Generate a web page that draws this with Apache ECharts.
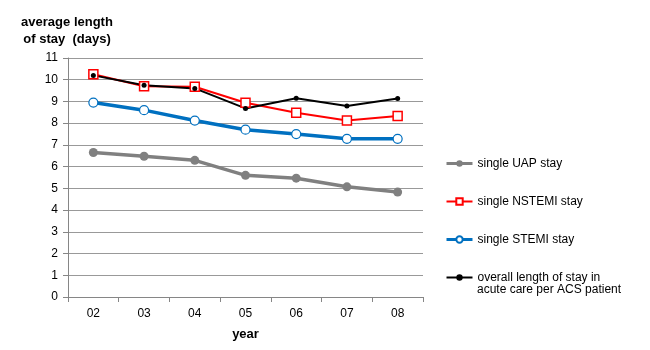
<!DOCTYPE html>
<html>
<head>
<meta charset="UTF-8">
<script src="https://cdn.jsdelivr.net/npm/echarts@6/dist/echarts.min.js"></script>
<style>
    * { margin: 0; padding: 0; }
    body { background: #fff; }
    #main { width: 650px; height: 350px; }
</style>
</head>
<body>
<div id="main"></div>
<script>
    // data
    var years = ['02', '03', '04', '05', '06', '07', '08'];
    var uapStay = [6.65, 6.48, 6.29, 5.6, 5.47, 5.07, 4.83];
    var nstemiStay = [10.25, 9.7, 9.68, 8.94, 8.48, 8.12, 8.33];
    var stemiStay = [8.95, 8.6, 8.12, 7.7, 7.5, 7.28, 7.28];
    var overallStay = [10.2, 9.75, 9.6, 8.68, 9.15, 8.79, 9.14];

    var overallName = 'overall length of stay in';
    var overallName2 = 'acute care per ACS patient';
    var font = 'Liberation Sans, Arial, sans-serif';
    var chart = echarts.init(document.getElementById('main'));

    var legendText = { fontFamily: font, fontSize: 12, color: '#000', lineHeight: 13 };

    var option = {
        animation: false,
        title: {
            text: 'average length\nof stay  (days)',
            left: 62,
            top: 9,
            textAlign: 'center',
            textStyle: { fontFamily: font, fontSize: 13, fontWeight: 'bold', color: '#000', lineHeight: 17 }
        },
        legend: {
            orient: 'vertical',
            left: 445,
            top: 157,
            padding: 0,
            itemWidth: 26,
            itemHeight: 8,
            itemGap: 25,
            textStyle: legendText,
            data: [
                { name: 'single UAP stay', lineStyle: { width: 3 } },
                { name: 'single NSTEMI stay' },
                { name: 'single STEMI stay', lineStyle: { width: 3 } },
                { name: overallName }
            ]
        },
        // second line of the last legend entry
        graphic: [{
            type: 'text',
            left: 477,
            top: 284,
            style: { text: overallName2, font: '12px ' + font, fill: '#000' }
        }],
        grid: { left: 68, right: 227, top: 58, bottom: 53 },
        xAxis: {
            type: 'category',
            data: years,
            name: 'year',
            nameLocation: 'middle',
            nameGap: 31,
            nameTextStyle: { fontFamily: font, fontSize: 13, fontWeight: 'bold', color: '#000' },
            axisLine: { lineStyle: { color: '#868686' } },
            axisTick: { show: true, length: 5, lineStyle: { color: '#868686' } },
            axisLabel: { fontFamily: font, fontSize: 12, color: '#000', margin: 11 }
        },
        yAxis: {
            type: 'value',
            min: 0,
            max: 11,
            interval: 1,
            axisLine: { show: true, lineStyle: { color: '#868686' } },
            axisTick: { show: true, length: 5, lineStyle: { color: '#868686' } },
            axisLabel: { fontFamily: font, fontSize: 12, color: '#000', margin: 10 },
            splitLine: { lineStyle: { color: '#999' } }
        },
        series: [
            {
                name: 'single UAP stay',
                type: 'line',
                data: uapStay,
                symbol: 'circle',
                symbolSize: 9,
                lineStyle: { color: '#808080', width: 3.5 },
                itemStyle: { color: '#808080', borderWidth: 0 }
            },
            {
                name: 'single NSTEMI stay',
                type: 'line',
                data: nstemiStay,
                symbol: 'rect',
                symbolSize: 9,
                lineStyle: { color: '#ff0000', width: 2 },
                itemStyle: { color: '#fff', borderColor: '#ff0000', borderWidth: 1.5 }
            },
            {
                name: 'single STEMI stay',
                type: 'line',
                data: stemiStay,
                symbol: 'circle',
                symbolSize: 9,
                lineStyle: { color: '#0070c0', width: 3.5 },
                itemStyle: { color: '#fff', borderColor: '#0070c0', borderWidth: 1.2 }
            },
            {
                name: overallName,
                type: 'line',
                data: overallStay,
                symbol: 'circle',
                symbolSize: 5,
                lineStyle: { color: '#000', width: 2 },
                itemStyle: { color: '#000', borderWidth: 0 }
            }
        ]
    };
    chart.setOption(option);
</script>
</body>
</html>
